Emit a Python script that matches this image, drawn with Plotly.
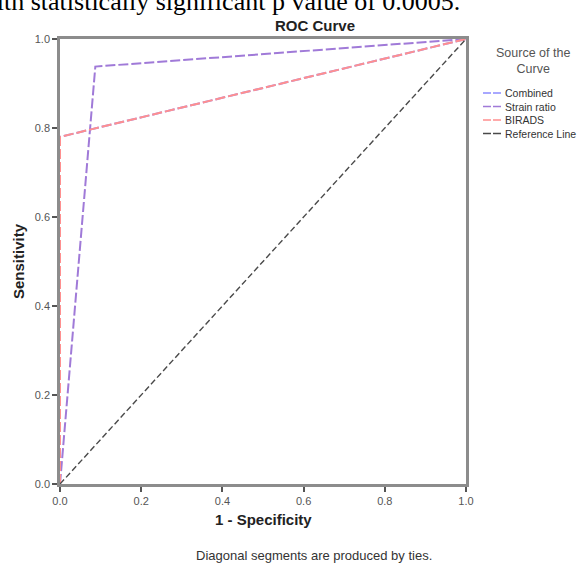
import plotly.graph_objects as go

# Data
combined_x = [0.0, 0.0, 1.0]
combined_y = [0.0, 0.78, 1.0]
strain_x = [0.0, 0.087, 1.0]
strain_y = [0.0, 0.938, 1.0]
birads_x = [0.0, 0.0, 1.0]
birads_y = [0.0, 0.78, 1.0]
ref_x = [0.0, 1.0]
ref_y = [0.0, 1.0]
tick_vals = [0.0, 0.2, 0.4, 0.6, 0.8, 1.0]
tick_text = ["0.0", "0.2", "0.4", "0.6", "0.8", "1.0"]
series_names = ["Combined", "Strain ratio", "BIRADS", "Reference Line"]
series_colors = ["#8c8cff", "#a07ad8", "#ff8f8f", "#4a4a4a"]
series_dash = ["10px,3px", "10px,3px", "10px,3px", "6px,3px"]
series_width = [2, 2, 2, 1.4]

W, H = 587, 571
L, R, T, B = 60, 466, 39, 484

def px(x):
    return (x - L) / (R - L)

def py(y):
    return (B - y) / (B - T)

fig = go.Figure()
for xs, ys, i in [(combined_x, combined_y, 0), (strain_x, strain_y, 1),
                  (birads_x, birads_y, 2), (ref_x, ref_y, 3)]:
    fig.add_trace(go.Scatter(x=xs, y=ys, mode="lines", name=series_names[i],
                             line=dict(color=series_colors[i], width=series_width[i],
                                       dash=series_dash[i]),
                             cliponaxis=False, showlegend=False))

axis_common = dict(range=[0, 1], tickvals=tick_vals, ticktext=tick_text,
                   showline=True, linecolor="#8c8c8c", linewidth=2.5, mirror=True,
                   ticks="outside", ticklen=5, tickwidth=1.5, tickcolor="#555555",
                   showgrid=False, zeroline=False,
                   tickfont=dict(family="Liberation Sans, Arial", size=11, color="#555555"))

fig.update_layout(
    width=W, height=H,
    margin=dict(l=L, r=W - R, t=T, b=H - B),
    plot_bgcolor="white", paper_bgcolor="white",
    xaxis=axis_common,
    yaxis=axis_common,
    showlegend=False,
)

ann_font = "Liberation Sans, Arial"
fig.add_annotation(xref="paper", yref="paper", x=px(315), y=py(25), text="<b>ROC Curve</b>",
                   showarrow=False, xanchor="center", yanchor="middle",
                   font=dict(family=ann_font, size=15, color="#222222"))
fig.add_annotation(xref="paper", yref="paper", x=px(263), y=py(519), text="<b>1 - Specificity</b>",
                   showarrow=False, xanchor="center", yanchor="middle",
                   font=dict(family=ann_font, size=15, color="#222222"))
fig.add_annotation(xref="paper", yref="paper", x=px(18), y=py(261), text="<b>Sensitivity</b>",
                   showarrow=False, xanchor="center", yanchor="middle", textangle=-90,
                   font=dict(family=ann_font, size=15, color="#222222"))
fig.add_annotation(xref="paper", yref="paper", x=px(314), y=py(555),
                   text="Diagonal segments are produced by ties.",
                   showarrow=False, xanchor="center", yanchor="middle",
                   font=dict(family=ann_font, size=13, color="#333333"))
fig.add_annotation(xref="paper", yref="paper", x=px(533), y=py(61),
                   text="Source of the<br>Curve",
                   showarrow=False, xanchor="center", yanchor="middle", align="center",
                   font=dict(family=ann_font, size=12.5, color="#555555"))

# manual legend
leg_y0 = 93
leg_step = 13.5
for i in range(len(series_names)):
    yy = py(leg_y0 + i * leg_step)
    fig.add_shape(type="line", xref="paper", yref="paper",
                  x0=px(483), x1=px(503), y0=yy, y1=yy,
                  line=dict(color=series_colors[i], width=1.5, dash="8px,2px"))
    fig.add_annotation(xref="paper", yref="paper", x=px(503), y=yy,
                       text=series_names[i], showarrow=False,
                       xanchor="left", yanchor="middle",
                       font=dict(family=ann_font, size=10.5, color="#333333"))

fig.add_annotation(xref="paper", yref="paper", x=px(462), y=py(18),
                   text="with statistically significant p value of 0.0005.",
                   showarrow=False, xanchor="right", yanchor="bottom",
                   font=dict(family="Liberation Serif, Times New Roman", size=26, color="#000000"))

fig.write_html("out.html", config={"displayModeBar": False},
               post_script="document.body.style.margin='0';")
